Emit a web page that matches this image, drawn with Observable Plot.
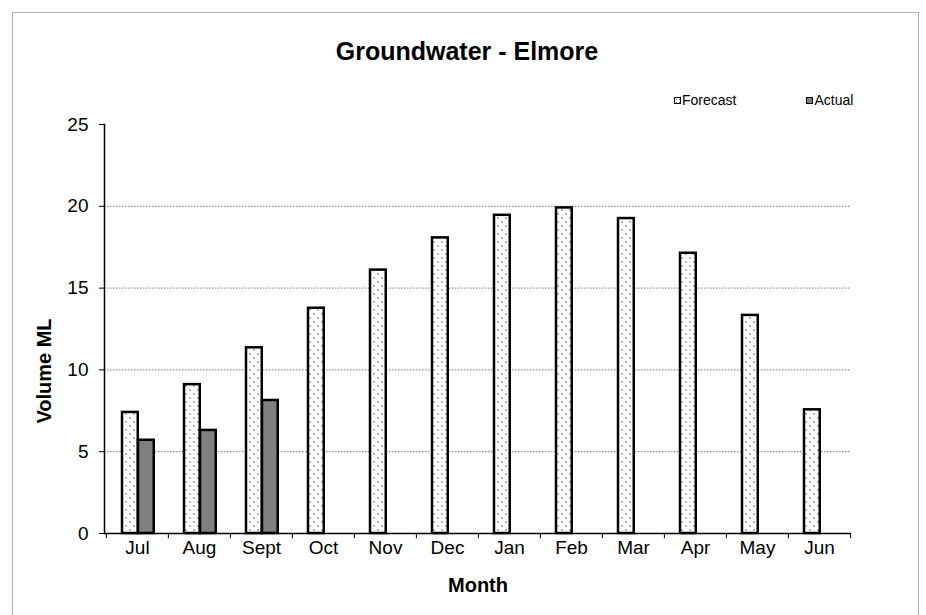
<!DOCTYPE html>
<html>
<head>
<meta charset="utf-8">
<script src="https://cdn.jsdelivr.net/npm/d3@7"></script>
<script src="https://cdn.jsdelivr.net/npm/@observablehq/plot@0.6"></script>
<style>
  html, body { margin: 0; padding: 0; background: #fff; overflow: hidden; }
  #wrap { position: relative; width: 926px; height: 615px; font-family: "Liberation Sans", Arial, sans-serif; }
  #border { position: absolute; left: 12px; top: 12px; width: 907px; height: 640px; border: 1px solid #b0b0b0; box-sizing: border-box; }
  #chart { position: absolute; left: 0; top: 0; }
  #title { position: absolute; left: 12px; width: 910px; top: 37px; text-align: center; font-weight: bold; font-size: 25px; color: #000; }
  #legend { position: absolute; top: 92px; left: 674px; font-size: 14px; color: #000; display: flex; }
  .item { display: flex; align-items: center; }
  .sw { width: 5px; height: 5px; border: 1.5px solid #000; margin-right: 1px; }
</style>
</head>
<body>
<div id="wrap">
  <div id="border"></div>
  <div id="chart"></div>
  <div id="title">Groundwater - Elmore</div>
  <div id="legend"></div>
</div>
<script>
// ---- data ----
const months = ["Jul","Aug","Sept","Oct","Nov","Dec","Jan","Feb","Mar","Apr","May","Jun"];
const forecast = [7.4, 9.1, 11.35, 13.77, 16.1, 18.07, 19.45, 19.9, 19.25, 17.13, 13.33, 7.56];
const actual = [5.7, 6.3, 8.13, null, null, null, null, null, null, null, null, null];
const seriesNames = ["Forecast", "Actual"];
const yTicks = [0, 5, 10, 15, 20, 25];
const gridValues = [5, 10, 15, 20];
const yLabel = "Volume ML";
const xLabel = "Month";

// ---- table ----
const fData = months.map((m, i) => ({month: m, value: forecast[i]}));
const aData = months.map((m, i) => ({month: m, value: actual[i]})).filter(d => d.value != null);

const W = 926, H = 615;
const mL = 104, mR = 75, mT = 124, mB = 82;
const step = (W - mL - mR) / months.length;
const barW = 16;

const font = "Liberation Sans, Arial, sans-serif";

const plot = Plot.plot({
  width: W,
  height: H,
  marginLeft: mL,
  marginRight: mR,
  marginTop: mT,
  marginBottom: mB,
  style: {fontFamily: font, color: "#000", background: "transparent", overflow: "visible"},
  x: {type: "band", domain: months, padding: 0, axis: null},
  y: {domain: [0, 25], axis: null},
  marks: [
    Plot.ruleY(gridValues, {stroke: "#777", strokeDasharray: "1.5,1.5", strokeWidth: 1}),
    Plot.barY(fData, {x: "month", y: "value", fill: "url(#dots)", stroke: "#000", strokeWidth: 2.5,
      insetLeft: 16, insetRight: step - 16 - barW}),
    Plot.barY(aData, {x: "month", y: "value", fill: "#808080", stroke: "#000", strokeWidth: 2.5,
      insetLeft: 16 + barW, insetRight: step - 16 - 2 * barW}),
    Plot.ruleY([0], {stroke: "#000", strokeWidth: 1.5}),
    Plot.frame({anchor: "left", stroke: "#000", strokeWidth: 1.5}),
    // boundary tick marks of the category axis
    Plot.ruleX(months, {x: d => d, dx: -step / 2, y1: 0, y2: -0.32, stroke: "#000"}),
    Plot.ruleX([months[months.length - 1]], {x: d => d, dx: step / 2, y1: 0, y2: -0.32, stroke: "#000"}),
    Plot.axisX({tickSize: 0, tickPadding: 7, fontSize: 19, label: null}),
    Plot.axisY({ticks: yTicks, tickSize: 5, tickPadding: 11, fontSize: 19, label: null, stroke: "#000"}),
    Plot.text([yLabel], {frameAnchor: "left", textAnchor: "middle", dx: -60, dy: 42, rotate: -90, fontSize: 20, fontWeight: "bold", fill: "#000"}),
    Plot.text([xLabel], {frameAnchor: "bottom", dy: 58, fontSize: 20, fontWeight: "bold", fill: "#000"})
  ]
});

// dotted fill pattern
const defs = d3.select(plot).insert("defs", ":first-child");
const pat = defs.append("pattern").attr("id", "dots").attr("patternUnits", "userSpaceOnUse")
  .attr("width", 8).attr("height", 8);
pat.append("rect").attr("width", 8).attr("height", 8).attr("fill", "#fff");
pat.append("circle").attr("cx", 2).attr("cy", 2).attr("r", 0.8).attr("fill", "#555");
pat.append("circle").attr("cx", 6).attr("cy", 6).attr("r", 0.8).attr("fill", "#555");

document.getElementById("chart").appendChild(plot);

// legend
const legend = d3.select("#legend");
const fills = {"Forecast": "radial-gradient(#666 30%, transparent 45%) 0 0/3px 3px, #fff", "Actual": "#808080"};
const gaps = {"Forecast": 70, "Actual": 0};
seriesNames.forEach(name => {
  const it = legend.append("div").attr("class", "item").style("margin-right", gaps[name] + "px");
  it.append("div").attr("class", "sw").style("background", fills[name]);
  it.append("span").text(name);
});
</script>
</body>
</html>
